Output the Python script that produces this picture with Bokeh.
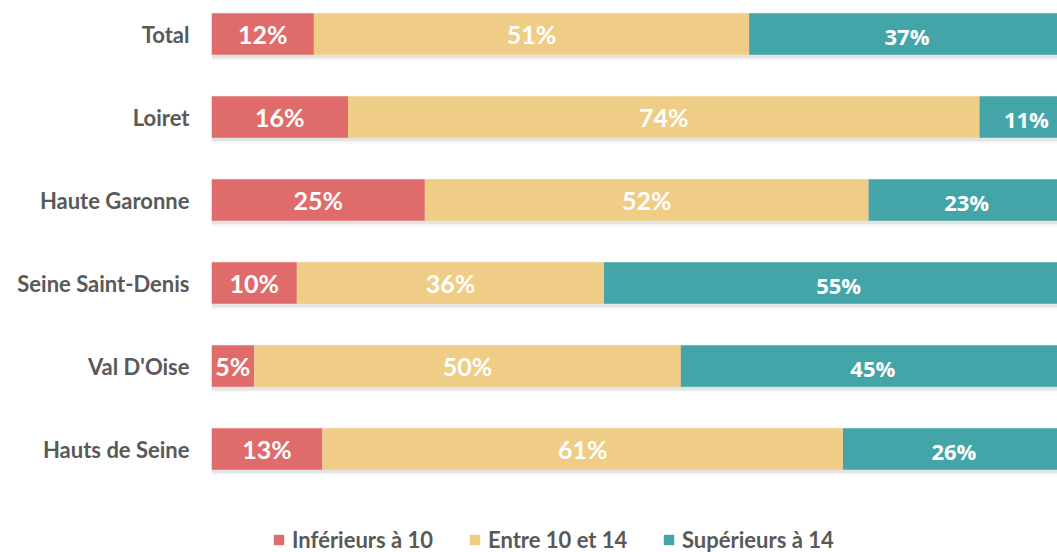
import numpy as np
from bokeh.plotting import figure
from bokeh.models import ColumnDataSource, Range1d, FixedTicker, Legend, LegendItem
from bokeh.core.properties import value
from bokeh.embed import file_html
from bokeh.resources import INLINE

categories = ["Total", "Loiret", "Haute Garonne", "Seine Saint-Denis", "Val D'Oise", "Hauts de Seine"]
inferieurs = [12, 16, 25, 10, 5, 13]
entre = [51, 74, 52, 36, 50, 61]
superieurs = [37, 11, 23, 55, 45, 26]
series_names = ["Inférieurs à 10", "Entre 10 et 14", "Supérieurs à 14"]
colors = ["#E06B6B", "#F0CD87", "#43A5A7"]

n = len(categories)
ypos = np.arange(n)[::-1].astype(float)  # Total on top
vals = np.array([inferieurs, entre, superieurs], dtype=float)
cum = np.cumsum(vals, axis=0)
lefts = np.vstack([np.zeros(n), cum[:-1]])
rights = cum

p = figure(width=1057, height=552, output_backend="svg", toolbar_location=None,
           x_range=Range1d(0, 99.14), y_range=Range1d(-1.247, 5.404),
           min_border_left=211, min_border_right=0, min_border_top=0, min_border_bottom=0)
p.outline_line_color = None
p.xgrid.visible = False
p.ygrid.visible = False
p.xaxis.visible = False
p.background_fill_color = "white"

# soft shadow
for grow, alpha in [(0.02, 0.05), (0.05, 0.035), (0.09, 0.02)]:
    p.hbar(y=ypos - 0.03, left=-grow * 4, right=cum[-1] + grow * 4, height=0.5 + grow,
           fill_color="black", fill_alpha=alpha, line_color=None)

renderers = []
for i in range(3):
    src = ColumnDataSource(dict(y=ypos, left=lefts[i], right=rights[i]))
    r = p.hbar(y="y", left="left", right="right", height=0.5, source=src,
               fill_color=colors[i], line_color=None)
    renderers.append(r)
    labels = [f"{int(v)}%" for v in vals[i]]
    tsrc = ColumnDataSource(dict(x=(lefts[i] + rights[i]) / 2, y=ypos, t=labels))
    if i < 2:
        p.text(x="x", y="y", text="t", source=tsrc, text_align="center", text_baseline="middle",
               text_color="white", text_font=value("Lato"), text_font_style="bold",
               text_font_size="25px")
    else:
        p.text(x="x", y="y", text="t", source=tsrc, text_align="center", text_baseline="middle",
               text_color="white", text_font=value("Open Sans"), text_font_style="bold",
               text_font_size="22px", y_offset=2)

ax = p.yaxis[0]
ax.ticker = FixedTicker(ticks=list(ypos))
ax.major_label_overrides = {float(y): c for y, c in zip(ypos, categories)}
ax.axis_line_color = None
ax.major_tick_line_color = None
ax.minor_tick_line_color = None
ax.major_tick_out = 0
ax.major_tick_in = 0
ax.major_label_standoff = 22
ax.major_label_text_font = "Lato"
ax.major_label_text_font_style = "bold"
ax.major_label_text_font_size = "22px"
ax.major_label_text_color = "#595959"

legend_x = [61, 257, 451]
for i in range(3):
    lg = Legend(items=[LegendItem(label=series_names[i], renderers=[renderers[i]])],
                location=(legend_x[i], -1), orientation="horizontal",
                padding=0, margin=0, border_line_color=None, background_fill_alpha=0,
                glyph_width=13, glyph_height=13, label_standoff=7, label_height=21,
                label_text_font="Lato", label_text_font_style="bold",
                label_text_font_size="22px", label_text_color="#595959")
    p.add_layout(lg, "center")

open("out.html", "w").write(file_html(p, INLINE))
